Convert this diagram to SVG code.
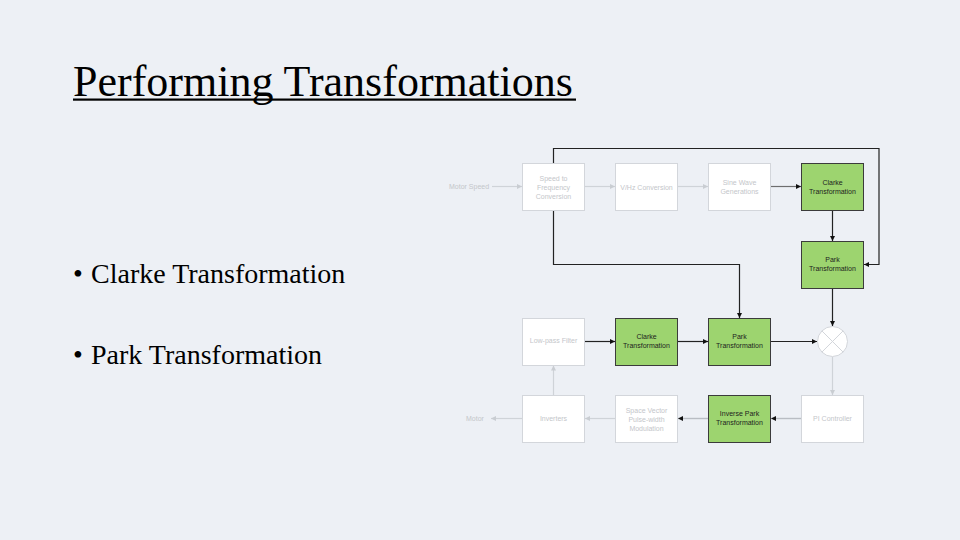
<svg xmlns="http://www.w3.org/2000/svg" width="960" height="540" viewBox="0 0 960 540">
<defs>
<style>
.bg{fill:#edf0f5}
.title{font-family:"Liberation Serif","Times New Roman",serif;font-size:44px;fill:#000}
.bullet{font-family:"Liberation Serif","Times New Roman",serif;font-size:28px;fill:#000}
.lbox{fill:#ffffff;stroke:#d3d6db;stroke-width:1}
.gbox{fill:#9dd46f;stroke:#3b3b3b;stroke-width:1}
.lt{font-family:"Liberation Sans",Arial,sans-serif;font-size:7px;fill:#c4c6ca;text-anchor:middle}
.gt{font-family:"Liberation Sans",Arial,sans-serif;font-size:7px;fill:#1e1e1e;text-anchor:middle}
.ext{font-family:"Liberation Sans",Arial,sans-serif;font-size:7px;fill:#c4c6ca}
.cb{fill:none;stroke:#222;stroke-width:1.2}
.cg{fill:none;stroke:#cfd3d8;stroke-width:1.2}
.cm{fill:none;stroke:#b9bdc3;stroke-width:1.4}
.cd{fill:none;stroke:#6e6e6e;stroke-width:1.2}
</style>
<marker id="ab" markerWidth="6" markerHeight="6" refX="5" refY="3" orient="auto" markerUnits="userSpaceOnUse"><path d="M0,0.5 L5,3 L0,5.5 Z" fill="#111"/></marker>
<marker id="ag" markerWidth="6" markerHeight="6" refX="5" refY="3" orient="auto" markerUnits="userSpaceOnUse"><path d="M0,0.5 L5,3 L0,5.5 Z" fill="#c9cdd2"/></marker>
</defs>
<rect class="bg" x="0" y="0" width="960" height="540"/>
<text class="title" x="73" y="96">Performing Transformations</text>
<rect x="73" y="98.5" width="503" height="2.2" fill="#000"/>
<text class="bullet" y="283"><tspan x="73">•</tspan><tspan x="91">Clarke Transformation</tspan></text>
<text class="bullet" y="364"><tspan x="73">•</tspan><tspan x="91">Park Transformation</tspan></text>

<g id="connectors">
<path class="cg" d="M492,186.5 H522" marker-end="url(#ag)"/>
<path class="cg" d="M584.5,186.5 H615" marker-end="url(#ag)"/>
<path class="cg" d="M677.5,186.5 H708" marker-end="url(#ag)"/>
<path class="cd" d="M770.5,186.5 H801" marker-end="url(#ab)"/>
<path class="cb" d="M832.5,210.5 V241" marker-end="url(#ab)"/>
<path class="cb" d="M553.5,163.5 V148.5 H879 V264.5 H864" marker-end="url(#ab)"/>
<path class="cb" d="M553.5,210.5 V264.5 H739.5 V318" marker-end="url(#ab)"/>
<path class="cb" d="M584.5,341.5 H615" marker-end="url(#ab)"/>
<path class="cb" d="M677.5,341.5 H708" marker-end="url(#ab)"/>
<path class="cb" d="M770.5,341.5 H817" marker-end="url(#ab)"/>
<path class="cb" d="M832.5,288 V326" marker-end="url(#ab)"/>
<path class="cg" d="M832.5,357 V395" marker-end="url(#ag)"/>
<path class="cm" d="M801,418.5 H771" marker-end="url(#ab)"/>
<path class="cm" d="M708,418.5 H678" marker-end="url(#ab)"/>
<path class="cg" d="M615,418.5 H585" marker-end="url(#ag)"/>
<path class="cg" d="M522,418.5 H491" marker-end="url(#ag)"/>
<path class="cg" d="M553.5,395.5 V365.5" marker-end="url(#ag)"/>
</g>

<text class="ext" x="449" y="189">Motor Speed</text>
<text class="ext" x="466" y="421">Motor</text>

<g id="speed-to-frequency">
<rect class="lbox" x="522.5" y="163.5" width="62" height="47"/>
<text class="lt" x="553.5" y="180.5">Speed to</text>
<text class="lt" x="553.5" y="189.5">Frequency</text>
<text class="lt" x="553.5" y="198.5">Conversion</text>
</g>
<g id="vhz-conversion">
<rect class="lbox" x="615.5" y="163.5" width="62" height="47"/>
<text class="lt" x="646.5" y="189.5">V/Hz Conversion</text>
</g>
<g id="sine-wave">
<rect class="lbox" x="708.5" y="163.5" width="62" height="47"/>
<text class="lt" x="739.5" y="185">Sine Wave</text>
<text class="lt" x="739.5" y="194">Generations</text>
</g>
<g id="clarke-top">
<rect class="gbox" x="801.5" y="163.5" width="62" height="47"/>
<text class="gt" x="832.5" y="184.5">Clarke</text>
<text class="gt" x="832.5" y="193.5">Transformation</text>
</g>
<g id="park-top">
<rect class="gbox" x="801.5" y="241.5" width="62" height="47"/>
<text class="gt" x="832.5" y="262">Park</text>
<text class="gt" x="832.5" y="271">Transformation</text>
</g>
<g id="low-pass-filter">
<rect class="lbox" x="522.5" y="318.5" width="62" height="47"/>
<text class="lt" x="553.5" y="343">Low-pass Filter</text>
</g>
<g id="clarke-mid">
<rect class="gbox" x="615.5" y="318.5" width="62" height="47"/>
<text class="gt" x="646.5" y="339">Clarke</text>
<text class="gt" x="646.5" y="348">Transformation</text>
</g>
<g id="park-mid">
<rect class="gbox" x="708.5" y="318.5" width="62" height="47"/>
<text class="gt" x="739.5" y="339">Park</text>
<text class="gt" x="739.5" y="348">Transformation</text>
</g>
<g id="summing-junction">
<circle cx="832.5" cy="341.5" r="15" fill="#ffffff" stroke="#d3d6db" stroke-width="1"/>
<path d="M821.9,330.9 L843.1,352.1 M843.1,330.9 L821.9,352.1" stroke="#d3d6db" stroke-width="1" fill="none"/>
</g>
<g id="inverters">
<rect class="lbox" x="522.5" y="395.5" width="62" height="47"/>
<text class="lt" x="553.5" y="421">Inverters</text>
</g>
<g id="svpwm">
<rect class="lbox" x="615.5" y="395.5" width="62" height="47"/>
<text class="lt" x="646.5" y="412.5">Space Vector</text>
<text class="lt" x="646.5" y="421.5">Pulse-width</text>
<text class="lt" x="646.5" y="430.5">Modulation</text>
</g>
<g id="inverse-park">
<rect class="gbox" x="708.5" y="395.5" width="62" height="47"/>
<text class="gt" x="739.5" y="416">Inverse Park</text>
<text class="gt" x="739.5" y="425">Transformation</text>
</g>
<g id="pi-controller">
<rect class="lbox" x="801.5" y="395.5" width="62" height="47"/>
<text class="lt" x="832.5" y="421">PI Controller</text>
</g>
</svg>
